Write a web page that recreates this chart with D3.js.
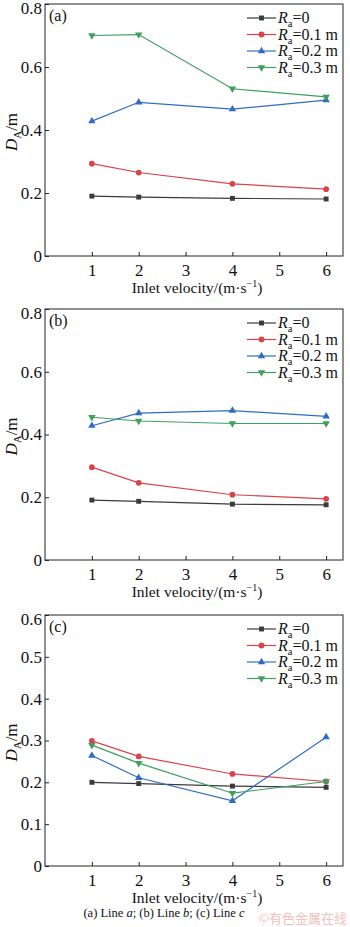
<!DOCTYPE html>
<html>
<head>
<meta charset="utf-8">
<script src="https://cdn.jsdelivr.net/npm/d3@7"></script>
<style>
  body { margin: 0; background: #fff; }
  text { font-family: "Liberation Serif", "Times New Roman", serif; }
</style>
</head>
<body>
<svg id="chart"></svg>
<script>
// data
const velocities = [1, 2, 4, 6];
const radiusLabels = ["0", "0.1 m", "0.2 m", "0.3 m"];
const xTicks = [1, 2, 3, 4, 5, 6];

// (a) Line a
const lineA_R0 = [0.190, 0.187, 0.183, 0.181];
const lineA_R1 = [0.293, 0.265, 0.229, 0.212];
const lineA_R2 = [0.428, 0.488, 0.466, 0.495];
const lineA_R3 = [0.700, 0.703, 0.531, 0.505];

// (b) Line b
const lineB_R0 = [0.191, 0.187, 0.178, 0.176];
const lineB_R1 = [0.296, 0.246, 0.208, 0.195];
const lineB_R2 = [0.428, 0.468, 0.476, 0.458];
const lineB_R3 = [0.455, 0.443, 0.435, 0.435];

// (c) Line c
const lineC_R0 = [0.200, 0.197, 0.191, 0.188];
const lineC_R1 = [0.299, 0.262, 0.220, 0.202];
const lineC_R2 = [0.264, 0.211, 0.156, 0.308];
const lineC_R3 = [0.289, 0.246, 0.174, 0.202];

const yTicksAB = [0, 0.2, 0.4, 0.6, 0.8];
const yTicksC = [0, 0.1, 0.2, 0.3, 0.4, 0.5, 0.6];

const colors = ["#3b3b3b", "#d9434a", "#2f6dc2", "#3e9f5f"];
const symbols = [d3.symbolSquare, d3.symbolCircle, d3.symbolTriangle, d3.symbolTriangle];

const panels = [
  { tag: "(a)", top: 4, bottom: 256, yMax: 0.8, yTicks: yTicksAB, series: [lineA_R0, lineA_R1, lineA_R2, lineA_R3] },
  { tag: "(b)", top: 309, bottom: 560, yMax: 0.8, yTicks: yTicksAB, series: [lineB_R0, lineB_R1, lineB_R2, lineB_R3] },
  { tag: "(c)", top: 615, bottom: 866, yMax: 0.6, yTicks: yTicksC, series: [lineC_R0, lineC_R1, lineC_R2, lineC_R3] }
];

const W = 350, H = 927;
const left = 45, right = 343;
const serif = "'Liberation Serif', 'Times New Roman', serif";

const svg = d3.select("#chart").attr("width", W).attr("height", H);

const x = d3.scaleLinear().domain([0, 6.36]).range([left, right]);

function drawMarker(g, i, cx, cy) {
  const sym = d3.symbol().type(symbols[i]).size(i === 1 ? 26 : 24);
  const rot = i === 3 ? 180 : 0;
  g.append("path")
    .attr("d", sym())
    .attr("transform", `translate(${cx},${cy}) rotate(${rot})`)
    .attr("fill", colors[i]);
}

panels.forEach(p => {
  const g = svg.append("g");
  const y = d3.scaleLinear().domain([0, p.yMax]).range([p.bottom, p.top]);

  // frame
  g.append("rect")
    .attr("x", left).attr("y", p.top)
    .attr("width", right - left).attr("height", p.bottom - p.top)
    .attr("fill", "none").attr("stroke", "#222").attr("stroke-width", 1);

  // x axis, ticks pointing inward
  const xa = g.append("g")
    .attr("transform", `translate(0,${p.bottom})`)
    .attr("font-family", serif)
    .call(d3.axisBottom(x).tickValues(xTicks).tickFormat(d3.format("d"))
      .tickSizeInner(-4).tickSizeOuter(0).tickPadding(8));
  xa.select(".domain").remove();
  xa.selectAll("line").attr("stroke", "#222");
  xa.selectAll("text").style("font-size", "17px").attr("fill", "#111");

  // y axis
  const ya = g.append("g")
    .attr("transform", `translate(${left},0)`)
    .attr("font-family", serif)
    .call(d3.axisLeft(y).tickValues(p.yTicks).tickSizeInner(-4).tickSizeOuter(0).tickPadding(3)
      .tickFormat(d => d === 0 ? "0" : d3.format(".1f")(d)));
  ya.select(".domain").remove();
  ya.selectAll("line").attr("stroke", "#222");
  ya.selectAll("text").style("font-size", "17px").attr("fill", "#111")
    .attr("dy", d => d === p.yMax ? "0.55em" : "0.32em");

  // x title
  const xt = g.append("text")
    .attr("x", (left + right) / 2 + 3)
    .attr("y", p.bottom + 37)
    .attr("text-anchor", "middle")
    .style("font-size", "15.5px")
    .attr("fill", "#111");
  xt.append("tspan").text("Inlet velocity/(m·s");
  xt.append("tspan").attr("dy", -6).style("font-size", "10px").text("−1");
  xt.append("tspan").attr("dy", 6).text(")");

  // y title
  const yt = g.append("text")
    .attr("transform", `translate(17,${(p.top + p.bottom) / 2 + 2}) rotate(-90)`)
    .attr("text-anchor", "middle")
    .style("font-size", "17px")
    .attr("fill", "#111");
  yt.append("tspan").style("font-style", "italic").text("D");
  yt.append("tspan").attr("dy", 4).style("font-size", "11px").text("A");
  yt.append("tspan").attr("dy", -4).text("/m");

  // panel tag
  g.append("text")
    .attr("x", left + 4).attr("y", p.top + 17)
    .style("font-size", "16px").attr("fill", "#111")
    .text(p.tag);

  // series
  const line = d3.line().x((d, k) => x(velocities[k])).y(d => y(d));
  p.series.forEach((vals, i) => {
    g.append("path")
      .datum(vals)
      .attr("d", line)
      .attr("fill", "none")
      .attr("stroke", colors[i])
      .attr("stroke-width", 1.2);
    vals.forEach((v, k) => drawMarker(g, i, x(velocities[k]), y(v)));
  });

  // legend
  radiusLabels.forEach((lab, i) => {
    const ly = p.top + 14 + i * 16.5;
    g.append("line")
      .attr("x1", 247).attr("x2", 276).attr("y1", ly).attr("y2", ly)
      .attr("stroke", colors[i]).attr("stroke-width", 1.2);
    drawMarker(g, i, 261.5, ly);
    const t = g.append("text")
      .attr("x", 278).attr("y", ly + 5)
      .style("font-size", "16px").attr("fill", "#111");
    t.append("tspan").style("font-style", "italic").text("R");
    t.append("tspan").attr("dy", 4).style("font-size", "10.5px").text("a");
    t.append("tspan").attr("dy", -4).text("=" + lab);
  });
});

// caption
const cap = svg.append("text")
  .attr("x", 164).attr("y", 917)
  .attr("text-anchor", "middle")
  .style("font-size", "12.5px").attr("fill", "#111");
cap.append("tspan").text("(a) Line ");
cap.append("tspan").style("font-style", "italic").text("a");
cap.append("tspan").text("; (b) Line ");
cap.append("tspan").style("font-style", "italic").text("b");
cap.append("tspan").text("; (c) Line ");
cap.append("tspan").style("font-style", "italic").text("c");

// watermark
svg.append("text")
  .attr("x", 347).attr("y", 923)
  .attr("text-anchor", "end")
  .style("font-family", "'Noto Sans CJK SC', sans-serif")
  .style("font-size", "13px")
  .attr("fill", "#f2c0c0")
  .text("©有色金属在线");
</script>
</body>
</html>
